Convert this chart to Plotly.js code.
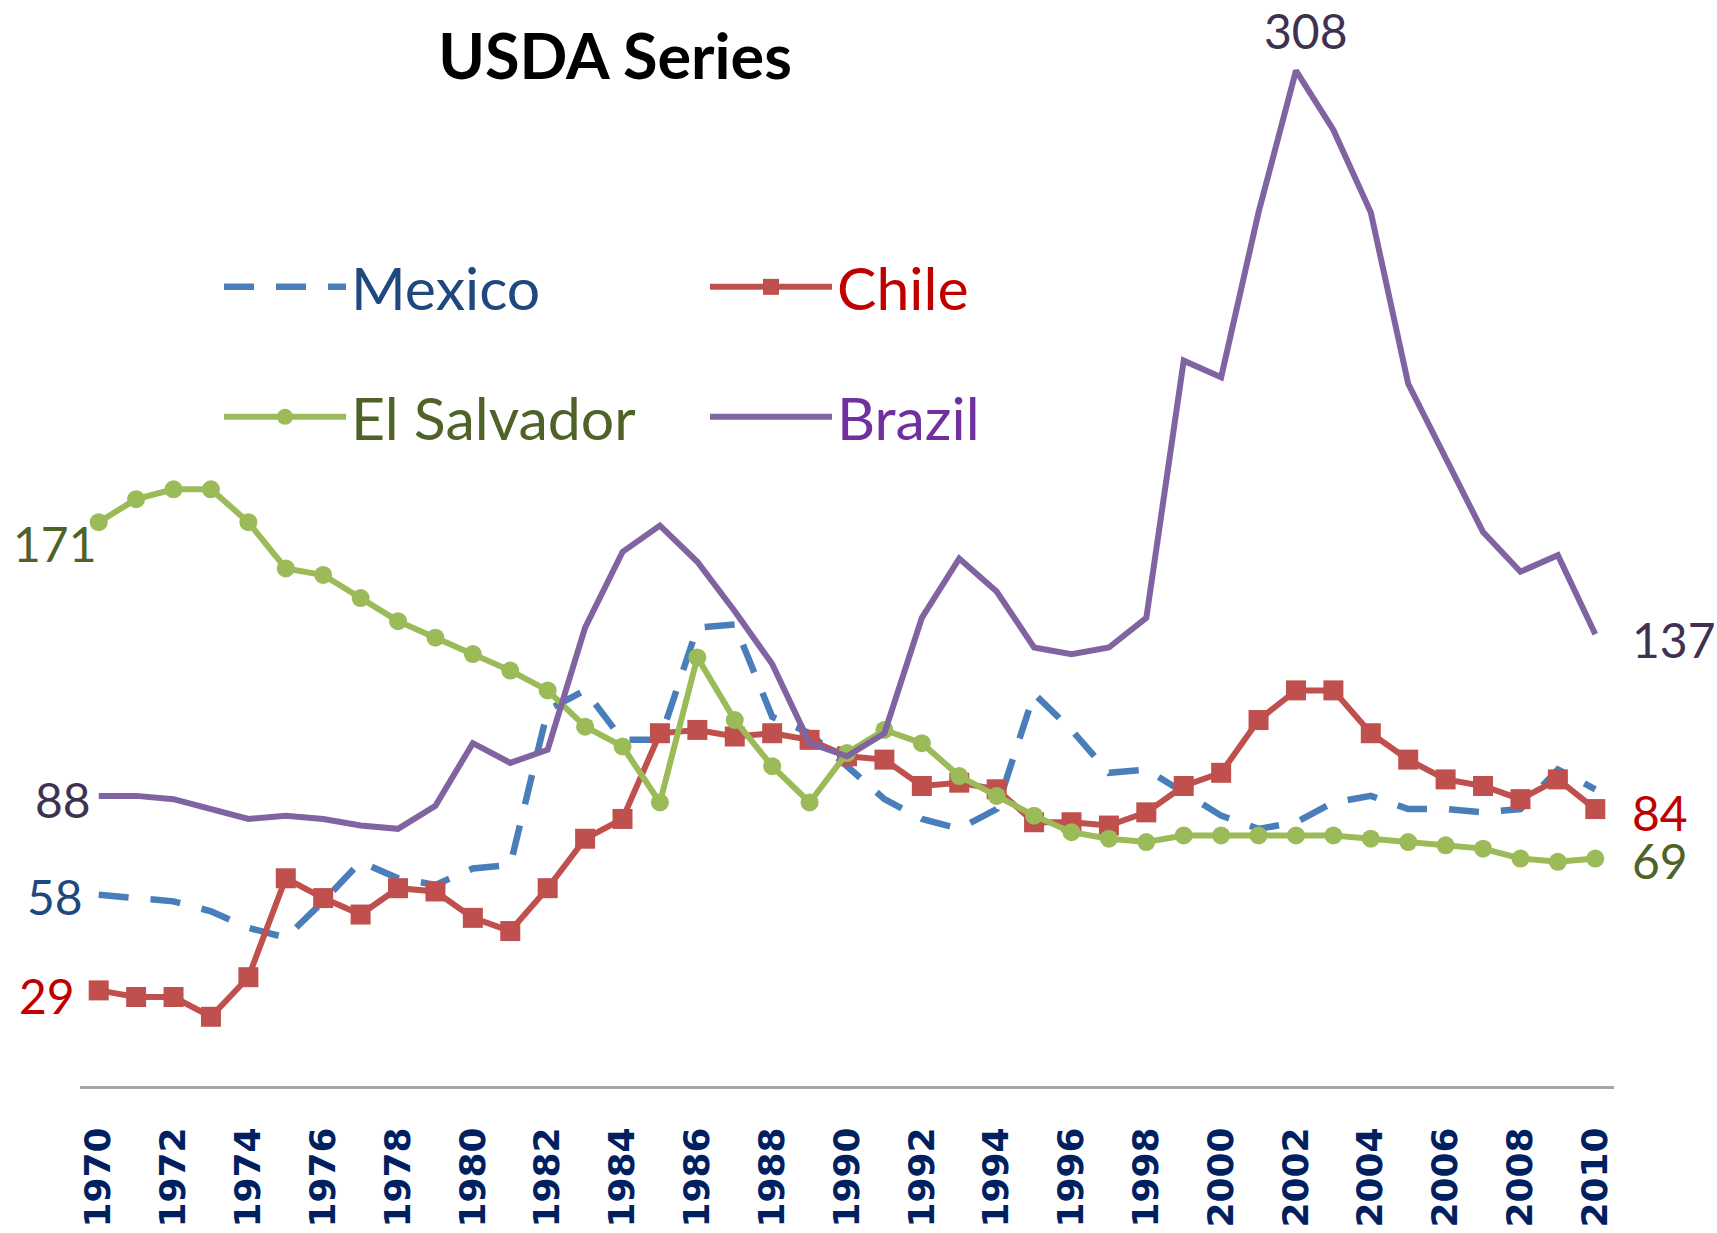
<!DOCTYPE html>
<html>
<head>
<meta charset="utf-8">
<script src="https://cdn.plot.ly/plotly-3.0.1.min.js"></script>
<style>html,body{margin:0;padding:0;background:#fff;}#chart{width:1717px;height:1233px;}</style>
</head>
<body>
<div id="chart"></div>
<script>
const years = [1970,1971,1972,1973,1974,1975,1976,1977,1978,1979,
               1980,1981,1982,1983,1984,1985,1986,1987,1988,1989,
               1990,1991,1992,1993,1994,1995,1996,1997,1998,1999,
               2000,2001,2002,2003,2004,2005,2006,2007,2008,2009,2010];
const mexico = [58,57,56,53,48,45,56,68,63,61,
                66,67,114,120,105,105,139,140,112,107,
                97,87,81,78,84,119,108,95,96,89,
                82,78,80,86,88,84,84,83,84,96,90];
const chile = [29,27,27,21,33,63,57,52,60,59,
               51,47,60,75,81,107,108,106,107,105,
               100,99,91,92,90,80,80,79,83,91,
               95,111,120,120,107,99,93,91,87,93,84];
const elSalvador = [171,178,181,181,171,157,155,148,141,136,
                    131,126,120,109,103,86,130,111,97,86,
                    101,108,104,94,88,82,77,75,74,76,
                    76,76,76,76,75,74,73,72,69,68,69];
const brazil = [88,88,87,84,81,82,81,79,78,85,
                104,98,102,139,162,170,159,144,128,104,
                100,107,142,160,150,133,131,133,142,220,
                215,265,308,290,265,213,190,168,156,161,137];
const seriesNames = ['Mexico','Chile','El Salvador','Brazil'];
const titleText = 'USDA Series';

const W = 1717, H = 1233;
const ML = 80, MR = 103, MT = 31, MB = 147;
const PW = W - ML - MR, PH = H - MT - MB;
const F = 'Lato, "Open Sans", sans-serif';

const traces = [
  {x: years, y: mexico, name: seriesNames[0], mode: 'lines', legend: 'legend',
   line: {color: '#4A7EBB', width: 6.5, dash: '30px,22px'}},
  {x: years, y: chile, name: seriesNames[1], mode: 'lines+markers', legend: 'legend2',
   line: {color: '#C0504D', width: 6}, marker: {symbol: 'square', size: 20, color: '#C0504D'}},
  {x: years, y: elSalvador, name: seriesNames[2], mode: 'lines+markers', legend: 'legend3',
   line: {color: '#9BBB59', width: 6}, marker: {symbol: 'circle', size: 18, color: '#9BBB59'}},
  {x: years, y: brazil, name: seriesNames[3], mode: 'lines', legend: 'legend4',
   line: {color: '#8064A2', width: 6}}
];

function legendCfg(px, py, color) {
  return {x: (px - ML) / PW, y: (H - MB - py) / PH, xref: 'paper', yref: 'paper',
          xanchor: 'left', yanchor: 'middle', orientation: 'v',
          font: {family: F, size: 59, color: color},
          itemwidth: 122, bgcolor: 'rgba(0,0,0,0)', borderwidth: 0};
}

const last = years.length - 1;
const peak = brazil.indexOf(Math.max.apply(null, brazil));
function lab(x, y, color, xanchor, xshift, yshift) {
  return {x: x, y: y, text: String(y), showarrow: false, xref: 'x', yref: 'y',
          xanchor: xanchor, yanchor: 'middle', xshift: xshift, yshift: yshift,
          font: {family: F, size: 48, color: color}};
}
const annotations = [
  lab(years[0], elSalvador[0], '#4F6228', 'right', 0, -21),
  lab(years[0], brazil[0], '#3F3151', 'right', -6, -4),
  lab(years[0], mexico[0], '#1F497D', 'right', -14, -2),
  lab(years[0], chile[0], '#C00000', 'right', -22, -5),
  lab(years[peak], brazil[peak], '#3F3151', 'center', 10, 40),
  lab(years[last], brazil[last], '#3F3151', 'left', 35, -5),
  lab(years[last], chile[last], '#C00000', 'left', 35, -3),
  lab(years[last], elSalvador[last], '#4F6228', 'left', 35, -2)
];

const layout = {
  width: W, height: H,
  margin: {l: ML, r: MR, t: MT, b: MB, pad: 0, autoexpand: false},
  paper_bgcolor: '#ffffff', plot_bgcolor: '#ffffff',
  title: {text: titleText, x: 615 / W, xref: 'container', xanchor: 'center',
          y: 1 - 57 / H, yref: 'container', yanchor: 'middle',
          font: {family: F, size: 63, color: '#000000', weight: 'bold'}},
  xaxis: {range: [1969.5, 2010.5], tickmode: 'linear', tick0: 1970, dtick: 2,
          tickangle: -90, showgrid: false, zeroline: false, showline: true,
          linecolor: '#A6A6A6', linewidth: 3, ticks: '', ticklabelstandoff: 24,
          automargin: false,
          tickfont: {family: '"DejaVu Sans", sans-serif', size: 36, color: '#002060', weight: 'bold'}},
  yaxis: {range: [0, 320], visible: false, showgrid: false, zeroline: false, automargin: false},
  legend: legendCfg(219, 287, '#1F497D'),
  legend2: legendCfg(705, 287, '#C00000'),
  legend3: legendCfg(219, 417, '#4F6228'),
  legend4: legendCfg(705, 417, '#7030A0'),
  annotations: annotations,
  showlegend: true
};

Plotly.newPlot('chart', traces, layout, {staticPlot: true, displayModeBar: false});
</script>
</body>
</html>
